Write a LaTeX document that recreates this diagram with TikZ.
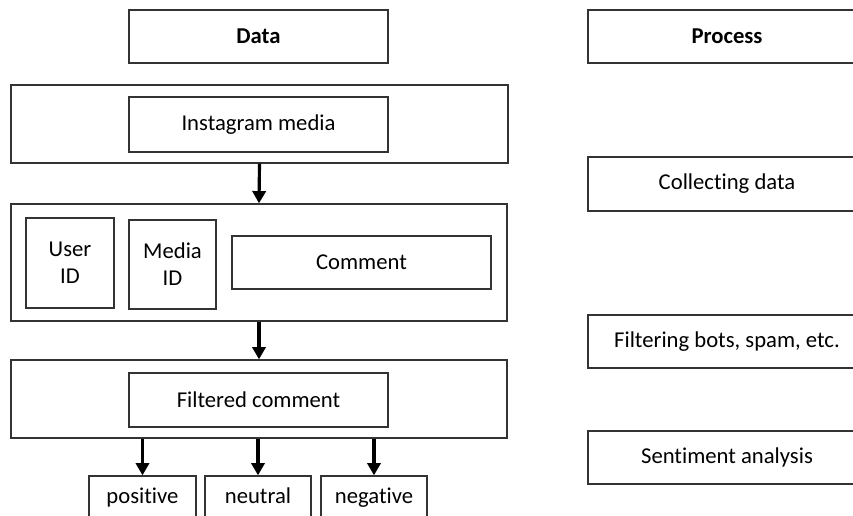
\documentclass[tikz,border=0pt]{standalone}
\usepackage{fontspec}
\setmainfont{Carlito}[Ligatures=NoCommon]
\usetikzlibrary{arrows.meta}

\begin{document}
\begin{tikzpicture}[x=0.02cm,y=-0.02cm,
    every node/.style={font=\fontsize{12.9}{15.5}\selectfont,align=center,inner sep=0pt},
    box/.style={draw=black!80,line width=0.75pt,fill=white},
    leaf/.style={box,minimum width=2.12cm,minimum height=0.88cm,text height=9pt,text depth=2.5pt},
    flow/.style={line width=1.8pt,-{Triangle[width=7.5pt,length=7pt]}}]
    \clip (0,0) rectangle (853,515);
    \fill[white] (0,0) rectangle (853,515);
    \node[box,minimum width=5.18cm,minimum height=1.06cm,font=\fontsize{12.9}{15.5}\selectfont\bfseries] (data) at (258.5,36.5) {Data};
    \node[box,minimum width=5.56cm,minimum height=1.06cm,font=\fontsize{12.9}{15.5}\selectfont\bfseries] (process) at (727,36.5) {Process};
    \node[box,minimum width=9.94cm,minimum height=1.56cm] (media) at (259.5,124) {};
    \node[box,minimum width=5.18cm,minimum height=1.1cm] (insta) at (258.5,124.5) {Instagram media};
    \node[box,minimum width=9.92cm,minimum height=2.34cm] (raw) at (259,262.5) {};
    \node[box,minimum width=1.76cm,minimum height=1.8cm] (userid) at (70,263) {User\\ID};
    \node[box,minimum width=1.74cm,minimum height=1.78cm] (mediaid) at (172.5,264.5) {Media\\ID};
    \node[box,minimum width=5.18cm,minimum height=1.06cm] (comment) at (361.5,262.5) {Comment};
    \node[box,minimum width=9.92cm,minimum height=1.56cm] (filtered) at (259,399) {};
    \node[box,minimum width=5.18cm,minimum height=1.08cm] (fcomment) at (258.5,400) {Filtered comment};
    \node[leaf,minimum width=2.14cm] (pos) at (142.5,498) {positive};
    \node[leaf] (neu) at (258,498) {neutral};
    \node[leaf] (neg) at (374,498) {negative};
    \node[box,minimum width=5.56cm,minimum height=1.08cm] (collect) at (727,184) {Collecting data};
    \node[box,minimum width=5.56cm,minimum height=1.06cm] (filter) at (727,341.5) {Filtering bots, spam, etc.};
    \node[box,minimum width=5.56cm,minimum height=1.06cm] (senti) at (727,457.5) {Sentiment analysis};
    \draw[flow] (media.south) -- (raw.north);
    \draw[flow] (raw.south) -- (filtered.north);
    \draw[flow] (pos.north |- filtered.south) -- (pos.north);
    \draw[flow] (neu.north |- filtered.south) -- (neu.north);
    \draw[flow] (neg.north |- filtered.south) -- (neg.north);
\end{tikzpicture}
\end{document}
